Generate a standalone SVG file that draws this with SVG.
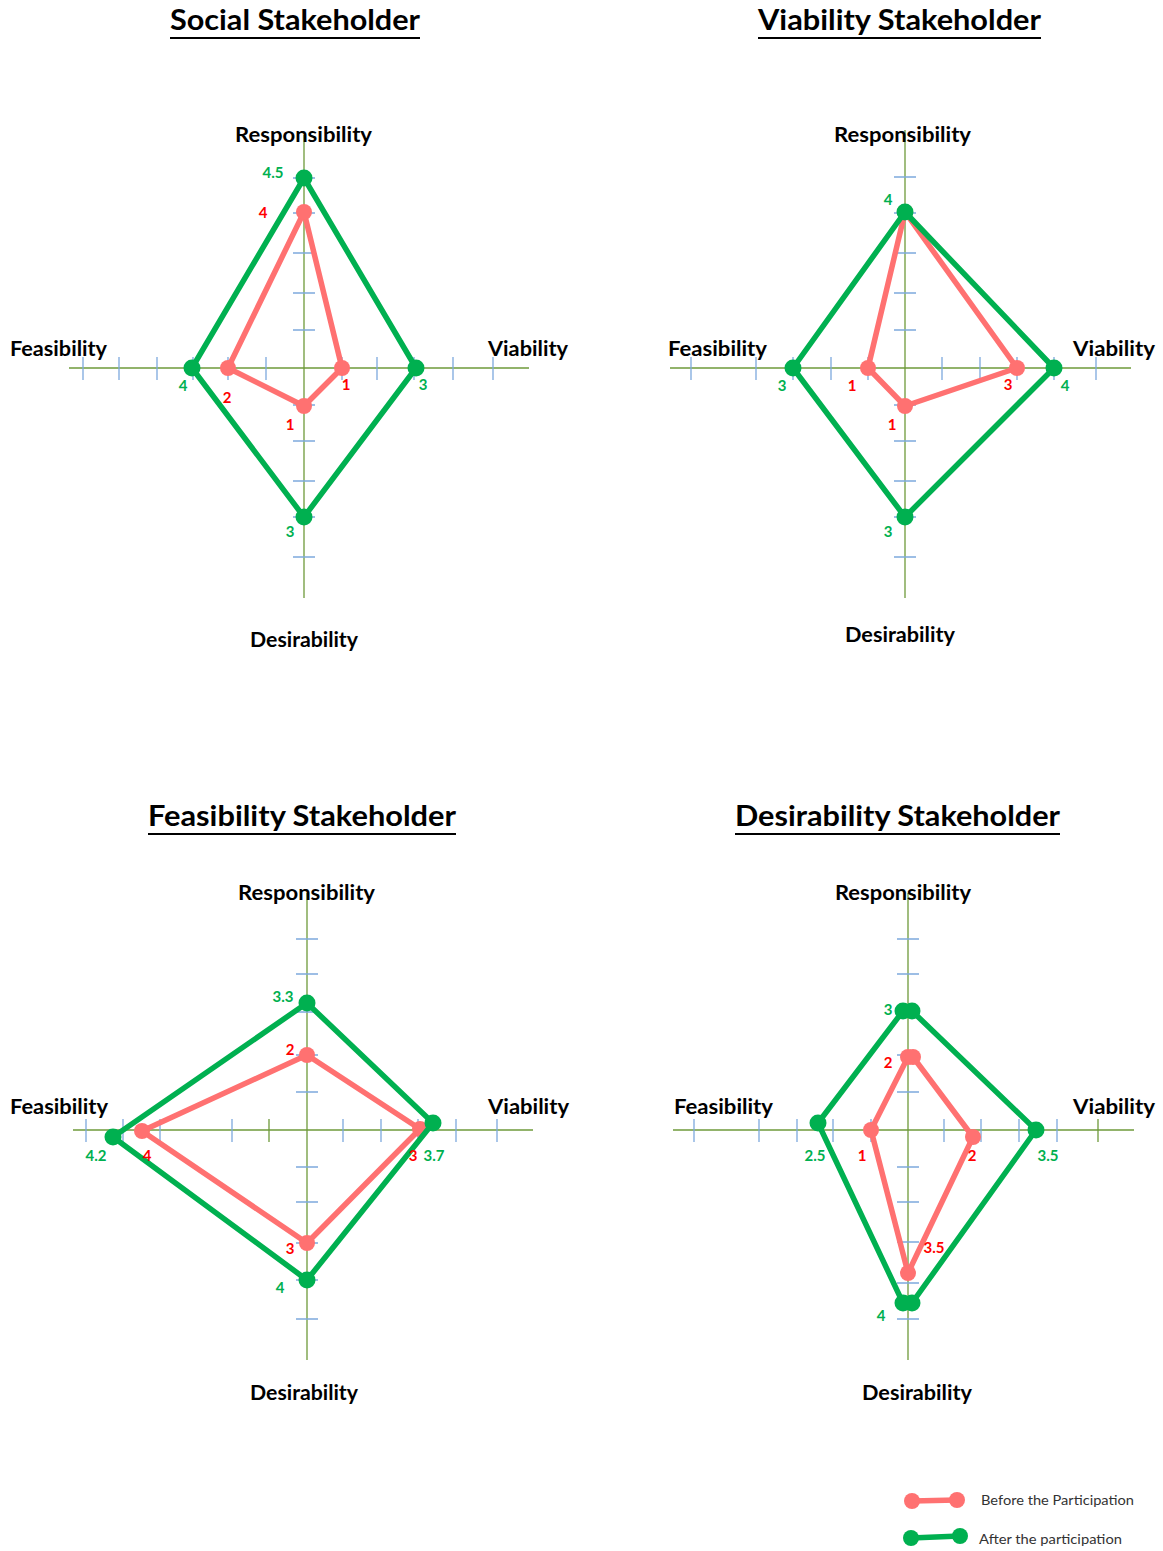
<svg xmlns="http://www.w3.org/2000/svg" width="1163" height="1551" viewBox="0 0 1163 1551">
  <style>
    .title { font-family: Lato, "Liberation Sans", sans-serif; font-weight: 700; font-size: 29px; fill: #000; }
    .uline { stroke: #000; stroke-width: 2; }
    .axlbl { font-family: Lato, "Liberation Sans", sans-serif; font-weight: 700; font-size: 20px; fill: #000; }
    .axis { stroke: #6E9A3A; stroke-width: 1.3; fill: none; }
    .tick { stroke: #7DA9DD; stroke-width: 1.3; fill: none; }
    .otick { stroke: #6E9A3A; stroke-width: 1.3; fill: none; }
    .after { stroke: #00B050; stroke-width: 5.5; fill: none; stroke-linejoin: round; }
    .before { stroke: #FF7171; stroke-width: 5.5; fill: none; stroke-linejoin: round; }
    .gdot { fill: #00B050; }
    .rdot { fill: #FF7171; }
    .gnum { font-family: Lato, "Liberation Sans", sans-serif; font-weight: 700; font-size: 15px; fill: #00B050; text-anchor: middle; }
    .rnum { font-family: Lato, "Liberation Sans", sans-serif; font-weight: 700; font-size: 15px; fill: #FF0000; text-anchor: middle; }
    .leg { font-family: Lato, "Liberation Sans", sans-serif; font-size: 14px; fill: #333; }
  </style>

  <!-- Social Stakeholder -->
  <g id="chart-social">
    <text class="title" x="170" y="30" textLength="250" lengthAdjust="spacingAndGlyphs">Social Stakeholder</text>
    <line class="uline" x1="170" y1="38" x2="420" y2="38"/>
    <line class="axis" x1="304" y1="135" x2="304" y2="598"/>
    <line class="axis" x1="69" y1="368" x2="529" y2="368"/>
    <path class="tick" d="M83 357V380M119 357V380M157 357V380M193 357V380M228 357V380M266 357V380M342 357V380M377 357V380M414 357V380M453 357V380M493 357V380"/>
    <path class="tick" d="M293 178H315M293 213H315M293 253H315M293 293H315M293 330H315M293 405H315M293 441H315M293 481H315M293 517H315M293 557H315"/>
    <text class="axlbl" x="235" y="142" textLength="137" lengthAdjust="spacingAndGlyphs">Responsibility</text>
    <text class="axlbl" x="10" y="356" textLength="97" lengthAdjust="spacingAndGlyphs">Feasibility</text>
    <text class="axlbl" x="488" y="356" textLength="80" lengthAdjust="spacingAndGlyphs">Viability</text>
    <text class="axlbl" x="250" y="647" textLength="108" lengthAdjust="spacingAndGlyphs">Desirability</text>
    <polygon class="before" points="304,212 342,368 304,406 228,368"/>
    <g class="rdot">
      <circle cx="304" cy="212" r="8"/><circle cx="342" cy="368" r="8"/><circle cx="304" cy="406" r="8"/><circle cx="228" cy="368" r="8"/>
    </g>
    <polygon class="after" points="304,178 416,368 304,517 192,368"/>
    <g class="gdot">
      <circle cx="304" cy="178" r="8.5"/><circle cx="416" cy="368" r="8.5"/><circle cx="304" cy="517" r="8.5"/><circle cx="192" cy="368" r="8.5"/>
    </g>
    <text class="gnum" x="273" y="178">4.5</text>
    <text class="rnum" x="263" y="218">4</text>
    <text class="rnum" x="346" y="390">1</text>
    <text class="gnum" x="423" y="390">3</text>
    <text class="gnum" x="183" y="391">4</text>
    <text class="rnum" x="227" y="403">2</text>
    <text class="rnum" x="290" y="430">1</text>
    <text class="gnum" x="290" y="537">3</text>
  </g>

  <!-- Viability Stakeholder -->
  <g id="chart-viability">
    <text class="title" x="758" y="30" textLength="283" lengthAdjust="spacingAndGlyphs">Viability Stakeholder</text>
    <line class="uline" x1="758" y1="38" x2="1041" y2="38"/>
    <line class="axis" x1="905" y1="130" x2="905" y2="598"/>
    <line class="axis" x1="670" y1="368" x2="1131" y2="368"/>
    <path class="tick" d="M691 357V380M756 357V380M793 357V380M831 357V380M868 357V380M942 357V380M980 357V380M1017 357V380M1054 357V380M1096 357V380"/>
    <path class="tick" d="M894 177H916M894 213H916M894 253H916M894 293H916M894 330H916M894 405H916M894 441H916M894 481H916M894 517H916M894 557H916"/>
    <text class="axlbl" x="834" y="142" textLength="137" lengthAdjust="spacingAndGlyphs">Responsibility</text>
    <text class="axlbl" x="668" y="356" textLength="99" lengthAdjust="spacingAndGlyphs">Feasibility</text>
    <text class="axlbl" x="1073" y="356" textLength="82" lengthAdjust="spacingAndGlyphs">Viability</text>
    <text class="axlbl" x="845" y="642" textLength="110" lengthAdjust="spacingAndGlyphs">Desirability</text>
    <polygon class="before" points="905,212 1017,368 905,406 868,368"/>
    <g class="rdot">
      <circle cx="905" cy="212" r="8"/><circle cx="1017" cy="368" r="8"/><circle cx="905" cy="406" r="8"/><circle cx="868" cy="368" r="8"/>
    </g>
    <polygon class="after" points="905,212 1054,368 905,517 793,368"/>
    <g class="gdot">
      <circle cx="905" cy="212" r="8.5"/><circle cx="1054" cy="368" r="8.5"/><circle cx="905" cy="517" r="8.5"/><circle cx="793" cy="368" r="8.5"/>
    </g>
    <text class="gnum" x="888" y="205">4</text>
    <text class="gnum" x="782" y="391">3</text>
    <text class="rnum" x="852" y="391">1</text>
    <text class="rnum" x="892" y="430">1</text>
    <text class="rnum" x="1008" y="390">3</text>
    <text class="gnum" x="1065" y="391">4</text>
    <text class="gnum" x="888" y="537">3</text>
  </g>

  <!-- Feasibility Stakeholder -->
  <g id="chart-feasibility">
    <text class="title" x="148" y="826" textLength="308" lengthAdjust="spacingAndGlyphs">Feasibility Stakeholder</text>
    <line class="uline" x1="148" y1="834" x2="456" y2="834"/>
    <line class="axis" x1="307" y1="893" x2="307" y2="1360"/>
    <line class="axis" x1="73" y1="1130" x2="533" y2="1130"/>
    <path class="tick" d="M86 1119V1142M123 1119V1142M160 1119V1142M232 1119V1142M343 1119V1142M381 1119V1142M418 1119V1142M456 1119V1142M497 1119V1142"/>
    <path class="otick" d="M269 1119V1142"/>
    <path class="tick" d="M296 939H318M296 974H318M296 1012H318M296 1055H318M296 1092H318M296 1167H318M296 1202H318M296 1243H318M296 1280H318M296 1319H318"/>
    <text class="axlbl" x="238" y="900" textLength="137" lengthAdjust="spacingAndGlyphs">Responsibility</text>
    <text class="axlbl" x="10" y="1114" textLength="98" lengthAdjust="spacingAndGlyphs">Feasibility</text>
    <text class="axlbl" x="488" y="1114" textLength="81" lengthAdjust="spacingAndGlyphs">Viability</text>
    <text class="axlbl" x="250" y="1400" textLength="108" lengthAdjust="spacingAndGlyphs">Desirability</text>
    <polygon class="before" points="307,1055 420,1129 307,1243 142,1131"/>
    <g class="rdot">
      <circle cx="307" cy="1055" r="8"/><circle cx="420" cy="1129" r="8"/><circle cx="307" cy="1243" r="8"/><circle cx="142" cy="1131" r="8"/>
    </g>
    <polygon class="after" points="307,1003 433,1123 307,1280 113,1137"/>
    <g class="gdot">
      <circle cx="307" cy="1003" r="8.5"/><circle cx="433" cy="1123" r="8.5"/><circle cx="307" cy="1280" r="8.5"/><circle cx="113" cy="1137" r="8.5"/>
    </g>
    <text class="gnum" x="283" y="1002">3.3</text>
    <text class="rnum" x="290" y="1055">2</text>
    <text class="gnum" x="96" y="1161">4.2</text>
    <text class="rnum" x="147" y="1161">4</text>
    <text class="rnum" x="413" y="1161">3</text>
    <text class="gnum" x="434" y="1161">3.7</text>
    <text class="rnum" x="290" y="1254">3</text>
    <text class="gnum" x="280" y="1293">4</text>
  </g>

  <!-- Desirability Stakeholder -->
  <g id="chart-desirability">
    <text class="title" x="735" y="826" textLength="325" lengthAdjust="spacingAndGlyphs">Desirability Stakeholder</text>
    <line class="uline" x1="735" y1="834" x2="1060" y2="834"/>
    <line class="axis" x1="908" y1="893" x2="908" y2="1360"/>
    <line class="axis" x1="673" y1="1130" x2="1134" y2="1130"/>
    <path class="tick" d="M694 1119V1142M759 1119V1142M797 1119V1142M833 1119V1142M871 1119V1142M944 1119V1142M981 1119V1142M1019 1119V1142M1057 1119V1142"/>
    <path class="otick" d="M1098 1119V1142"/>
    <path class="tick" d="M897 939H919M897 974H919M897 1012H919M897 1055H919M897 1092H919M897 1167H919M897 1202H919M897 1242H919M897 1283H919M897 1319H919"/>
    <text class="axlbl" x="835" y="900" textLength="136" lengthAdjust="spacingAndGlyphs">Responsibility</text>
    <text class="axlbl" x="674" y="1114" textLength="99" lengthAdjust="spacingAndGlyphs">Feasibility</text>
    <text class="axlbl" x="1073" y="1114" textLength="82" lengthAdjust="spacingAndGlyphs">Viability</text>
    <text class="axlbl" x="862" y="1400" textLength="110" lengthAdjust="spacingAndGlyphs">Desirability</text>
    <polygon class="before" points="908,1057 913,1057 973,1137 908,1273 871,1130"/>
    <g class="rdot">
      <circle cx="908" cy="1057" r="8"/><circle cx="913" cy="1057" r="8"/><circle cx="973" cy="1137" r="8"/><circle cx="908" cy="1273" r="8"/><circle cx="871" cy="1130" r="8"/>
    </g>
    <polygon class="after" points="903,1011 912,1011 1036,1130 912,1303 903,1303 818,1123"/>
    <g class="gdot">
      <circle cx="903" cy="1011" r="8.5"/><circle cx="912" cy="1011" r="8.5"/><circle cx="1036" cy="1130" r="8.5"/><circle cx="912" cy="1303" r="8.5"/><circle cx="903" cy="1303" r="8.5"/><circle cx="818" cy="1123" r="8.5"/>
    </g>
    <text class="gnum" x="888" y="1015">3</text>
    <text class="rnum" x="888" y="1068">2</text>
    <text class="gnum" x="815" y="1161">2.5</text>
    <text class="rnum" x="862" y="1161">1</text>
    <text class="rnum" x="972" y="1161">2</text>
    <text class="gnum" x="1048" y="1161">3.5</text>
    <text class="rnum" x="934" y="1253">3.5</text>
    <text class="gnum" x="881" y="1321">4</text>
  </g>

  <!-- Legend -->
  <g id="legend">
    <line class="before" x1="912" y1="1501" x2="957" y2="1500"/>
    <circle class="rdot" cx="912" cy="1501" r="8"/>
    <circle class="rdot" cx="957" cy="1500" r="8"/>
    <text class="leg" x="981" y="1505" textLength="153" lengthAdjust="spacingAndGlyphs">Before the Participation</text>
    <line class="after" x1="911" y1="1538" x2="960" y2="1536"/>
    <circle class="gdot" cx="911" cy="1538" r="8"/>
    <circle class="gdot" cx="960" cy="1536" r="8"/>
    <text class="leg" x="979" y="1544" textLength="143" lengthAdjust="spacingAndGlyphs">After the participation</text>
  </g>
</svg>
